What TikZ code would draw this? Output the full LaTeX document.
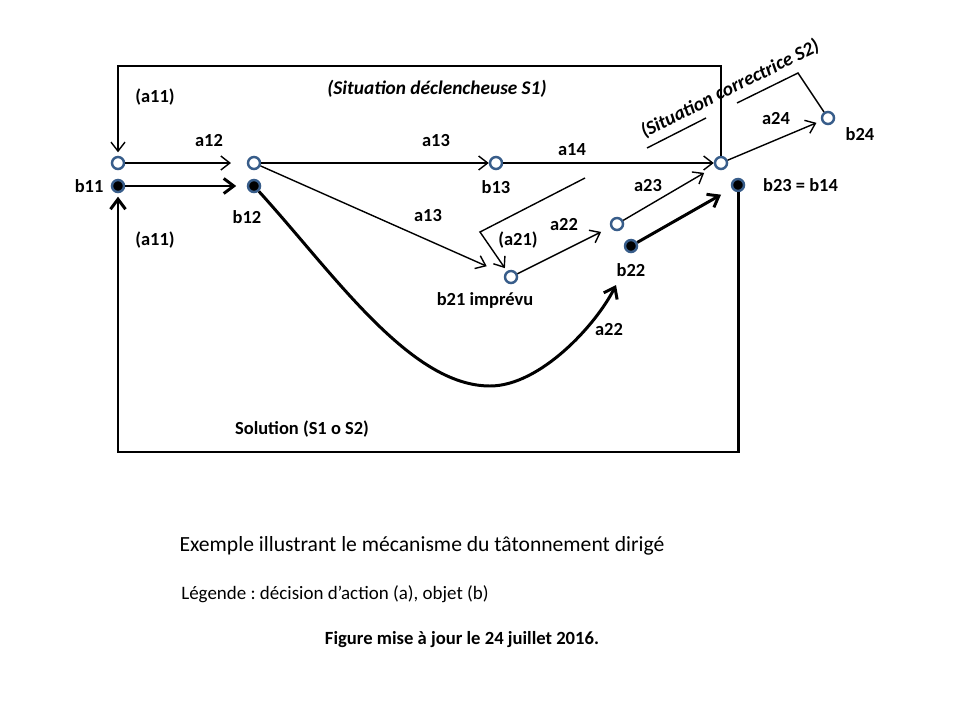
\documentclass[tikz,border=0pt]{standalone}
\usepackage{fontspec}
\setmainfont{Carlito}
\frenchspacing
\usetikzlibrary{arrows.meta,positioning,calc}
\definecolor{dotrim}{HTML}{385D8A}
\tikzset{
  opendot/.style={circle, draw=dotrim, line width=1.4pt, fill=white,
    minimum size=0.24cm, inner sep=0pt},
  fulldot/.style={opendot, fill=black},
  lbl/.style={font=\fontsize{10.5}{12}\selectfont\bfseries, inner sep=1pt},
  sitlbl/.style={lbl, font=\fontsize{11}{13}\selectfont\bfseries\itshape},
  caption/.style={inner sep=1pt, font=\fontsize{#1}{14}\selectfont},
  thinarrow/.style={-{Straight Barb[length=1.8mm,width=2.8mm]}, line width=0.8pt},
  thickarrow/.style={-{Straight Barb[length=2mm,width=3mm]}, line width=1.7pt},
  thinline/.style={line width=0.8pt}
}

\begin{document}
\begin{tikzpicture}[x=0.02cm, y=-0.02cm]
\useasboundingbox (0,0) rectangle (960,720);

% objets (b)
\node[opendot] (b11o) at (118,163) {};
\node[fulldot] (b11f) at (118,186) {};
\node[opendot] (b12o) at (254,163) {};
\node[fulldot] (b12f) at (254,186) {};
\node[opendot] (b13)  at (496,163) {};
\node[opendot] (b21)  at (511,277) {};
\node[opendot] (b22o) at (617,224) {};
\node[fulldot] (b22f) at (631,246) {};
\node[opendot] (b23o) at (721,163) {};
\node[fulldot] (b23f) at (738,185) {};
\node[opendot] (b24)  at (828,118) {};

\coordinate (toprail) at (0,66);
\coordinate (botrail) at (0,452);
\coordinate (c22) at (616,285);
\coordinate (s1a) at (585,178);
\coordinate (s1b) at (480,232);
\coordinate (s2a) at (647,148);
\coordinate (s2b) at (706,118);
\coordinate (s2c) at (737,103);
\coordinate (s2d) at (798,73);

% decisions (a)
\draw[thinarrow, shorten >=9pt] (b11o) -- (b12o);
\draw[thickarrow, shorten >=6pt] (b11f) -- (b12f);
\draw[thinarrow] (b12o) -- (b13);
\draw[thinarrow, shorten >=11pt] (b12o) -- (b21);
\draw[thinarrow] (b13) -- (b23o);
\draw[thinarrow, shorten >=6pt] (b21) -- (b22o);
\draw[thinarrow, shorten >=7pt] (b22o) -- (b23o);
\draw[thickarrow, shorten >=7pt] (b22f) -- (b23f);
\draw[thinarrow, shorten >=3pt] (b23o) -- (b24);
\draw[thickarrow] (b12f) .. controls (334,274) and (410,386) .. (490,386)
  .. controls (540,386) and (596,325) .. (c22);

% boucles
\draw[thinarrow, shorten >=2pt] (b23o.north) -- (b23o.north |- toprail) -| (b11o.north);
\draw[thickarrow, shorten >=2pt] (b23f.south) -- (b23f.south |- botrail) -| (b11f.south);

% situations
\draw[thinarrow, shorten >=2pt] (s1a) -- (s1b) -- (b21);
\draw[thinline] (s2a) -- (s2b);
\draw[thinline] (s2c) -- (s2d) -- (b24);

% etiquettes
\node[lbl] (la11t) at (155,97) {(a11)};
\node[lbl] (la11b) at (155,240) {(a11)};
\node[lbl, left=3pt of b11f] (lb11) {b11};
\node[lbl] (la12) at (209,141) {a12};
\node[lbl] (lb12) at (247,217) {b12};
\node[lbl] (la13t) at (436,141) {a13};
\node[lbl] (lb13) at (496,187) {b13};
\node[lbl] (la14) at (572,150) {a14};
\node[lbl] (la13b) at (428,216) {a13};
\node[lbl] (la21) at (518,240) {(a21)};
\node[lbl] (la22t) at (564,225) {a22};
\node[lbl] (lb21) at (485,300) {b21 imprévu};
\node[lbl] (la23) at (648,186) {a23};
\node[lbl] (lb22) at (631,270) {b22};
\node[lbl] (la22b) at (609,330) {a22};
\node[lbl, right=9pt of b23f] (lb23) {b23 = b14};
\node[lbl] (la24) at (776,119) {a24};
\node[lbl] (lb24) at (860,134) {b24};
\node[lbl] (lsol) at (302,429) {Solution (S1 o S2)};
\node[sitlbl] (ls1) at (437,89) {(Situation déclencheuse S1)};
\node[sitlbl, rotate=26.5] (ls2) at (730,89) {(Situation correctrice S2)};

% legende
\node[caption=12.3] (ttl) at (422,546) {Exemple illustrant le mécanisme du tâtonnement dirigé};
\node[caption=10.8] (leg) at (335,594) {Légende : décision d’action (a), objet (b)};
\node[caption=10, font=\fontsize{10.6}{12}\selectfont\bfseries] (maj) at (462,640) {Figure mise à jour le 24 juillet 2016.};
\end{tikzpicture}
\end{document}
